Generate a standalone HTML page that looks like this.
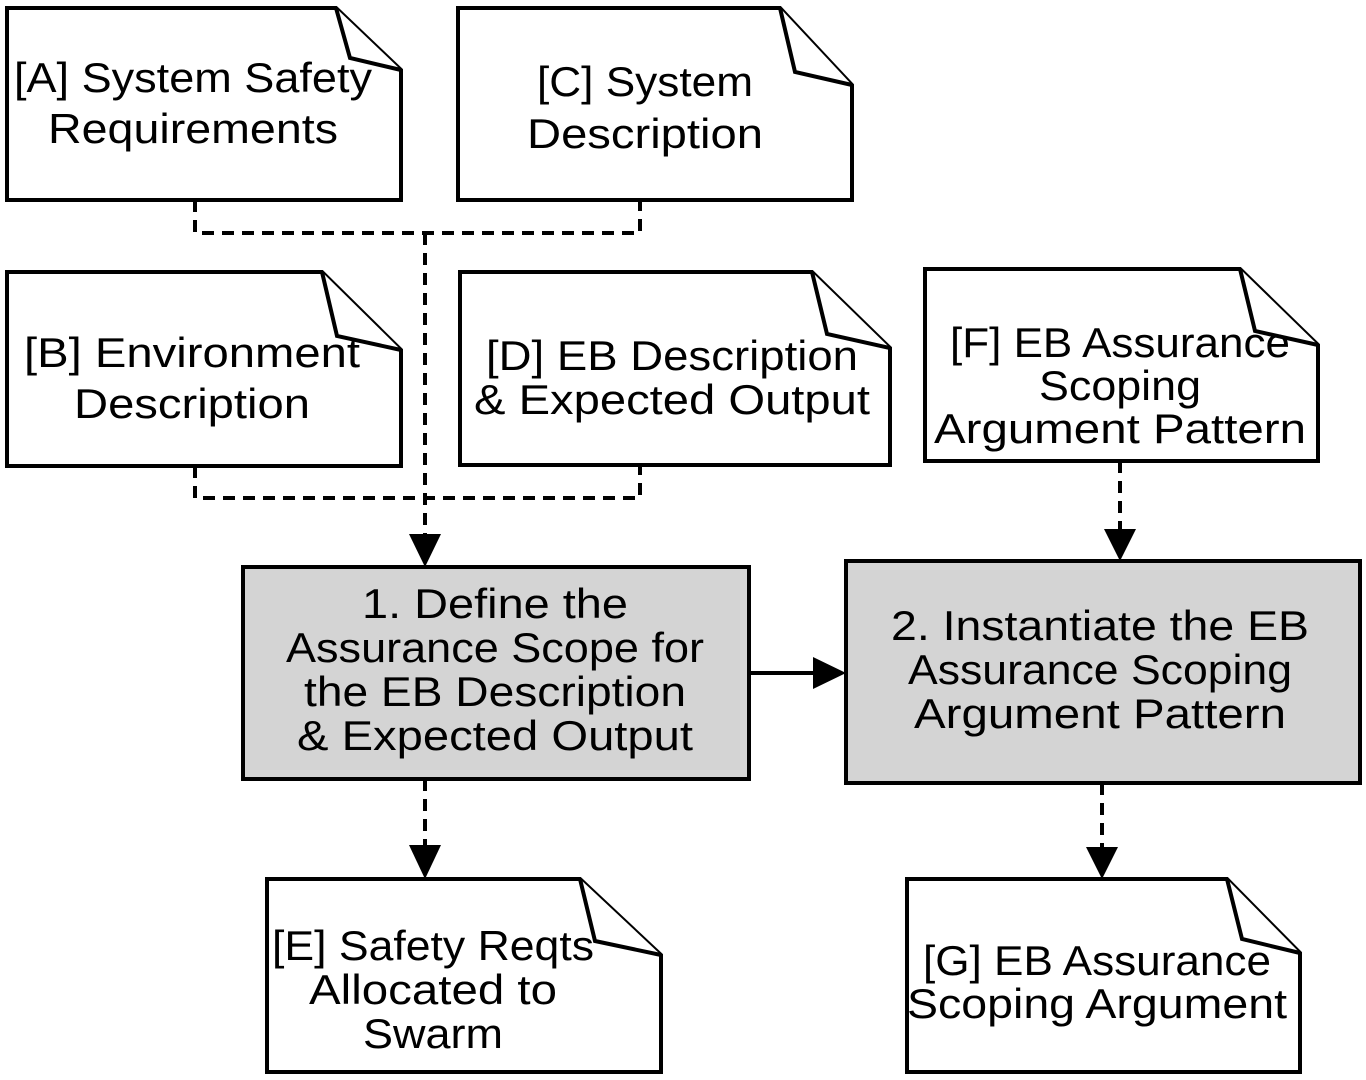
<!DOCTYPE html>
<html><head><meta charset="utf-8"><style>
html,body{margin:0;padding:0;background:#fff;}
svg{display:block}
text{font-family:"Liberation Sans",sans-serif;font-size:42px;fill:#000;text-anchor:middle}
</style></head><body>
<svg width="1366" height="1080" viewBox="0 0 1366 1080" xmlns="http://www.w3.org/2000/svg">
<defs>
<marker id="ah" markerWidth="10" markerHeight="10" refX="0" refY="0" viewBox="-1 -5 10 10" markerUnits="userSpaceOnUse" orient="auto" overflow="visible"></marker>
</defs>
<g fill="none" stroke="#000" stroke-width="4" stroke-dasharray="12,8">
<path d="M195 200 V233 H640 V200"/>
<path d="M195 466 V498 H640 V465"/>
<path d="M425 233 V536"/>
<path d="M1120 461 V530"/>
<path d="M425 779 V846"/>
<path d="M1102 783 V848"/>
</g>
<path d="M749 673 H815" stroke="#000" stroke-width="4"/>
<g fill="#000">
<polygon points="409,534 441,534 425,567"/>
<polygon points="1104,529 1136,529 1120,561"/>
<polygon points="409,845 441,845 425,879"/>
<polygon points="1086,847 1118,847 1102,879"/>
<polygon points="813,657 813,689 846,673"/>
</g>
<g fill="#fff" stroke="#000" stroke-width="4" stroke-linejoin="miter">
<path d="M7 8 H336 L401 70 V200 H7 Z"/><path d="M336 8 L350 58 L401 70"/>
<path d="M458 8 H780 L852 85 V200 H458 Z"/><path d="M780 8 L795 72 L852 85"/>
<path d="M7 272 H322 L401 350 V466 H7 Z"/><path d="M322 272 L337 336 L401 350"/>
<path d="M460 272 H812 L890 348 V465 H460 Z"/><path d="M812 272 L827 334 L890 348"/>
<path d="M925 269 H1240 L1318 345 V461 H925 Z"/><path d="M1240 269 L1255 331 L1318 345"/>
<path d="M267 879 H580 L661 955 V1072 H267 Z"/><path d="M580 879 L595 941 L661 955"/>
<path d="M907 879 H1227 L1300 953 V1072 H907 Z"/><path d="M1227 879 L1242 939 L1300 953"/>
</g>
<rect x="243" y="567" width="506" height="212" fill="#d4d4d4" stroke="#000" stroke-width="4"/>
<rect x="846" y="561" width="514" height="222" fill="#d4d4d4" stroke="#000" stroke-width="4"/>
<g lengthAdjust="spacingAndGlyphs">
<text x="193" y="92" textLength="358" lengthAdjust="spacingAndGlyphs">[A] System Safety</text>
<text x="193" y="143" textLength="290" lengthAdjust="spacingAndGlyphs">Requirements</text>
<text x="645" y="96" textLength="216" lengthAdjust="spacingAndGlyphs">[C] System</text>
<text x="645" y="148" textLength="236" lengthAdjust="spacingAndGlyphs">Description</text>
<text x="192" y="367" textLength="336" lengthAdjust="spacingAndGlyphs">[B] Environment</text>
<text x="192" y="418" textLength="236" lengthAdjust="spacingAndGlyphs">Description</text>
<text x="672" y="370" textLength="372" lengthAdjust="spacingAndGlyphs">[D] EB Description</text>
<text x="672" y="414" textLength="396" lengthAdjust="spacingAndGlyphs">&amp; Expected Output</text>
<text x="1120" y="357" textLength="340" lengthAdjust="spacingAndGlyphs">[F] EB Assurance</text>
<text x="1120" y="400" textLength="162" lengthAdjust="spacingAndGlyphs">Scoping</text>
<text x="1120" y="443" textLength="372" lengthAdjust="spacingAndGlyphs">Argument Pattern</text>
<text x="495" y="618" textLength="266" lengthAdjust="spacingAndGlyphs">1. Define the</text>
<text x="495" y="662" textLength="418" lengthAdjust="spacingAndGlyphs">Assurance Scope for</text>
<text x="495" y="706" textLength="382" lengthAdjust="spacingAndGlyphs">the EB Description</text>
<text x="495" y="750" textLength="396" lengthAdjust="spacingAndGlyphs">&amp; Expected Output</text>
<text x="1100" y="640" textLength="418" lengthAdjust="spacingAndGlyphs">2. Instantiate the EB</text>
<text x="1100" y="684" textLength="384" lengthAdjust="spacingAndGlyphs">Assurance Scoping</text>
<text x="1100" y="728" textLength="372" lengthAdjust="spacingAndGlyphs">Argument Pattern</text>
<text x="433" y="960" textLength="322" lengthAdjust="spacingAndGlyphs">[E] Safety Reqts</text>
<text x="433" y="1004" textLength="248" lengthAdjust="spacingAndGlyphs">Allocated to</text>
<text x="433" y="1048" textLength="140" lengthAdjust="spacingAndGlyphs">Swarm</text>
<text x="1097" y="975" textLength="348" lengthAdjust="spacingAndGlyphs">[G] EB Assurance</text>
<text x="1097" y="1018" textLength="380" lengthAdjust="spacingAndGlyphs">Scoping Argument</text>
</g>
</svg>
</body></html>
